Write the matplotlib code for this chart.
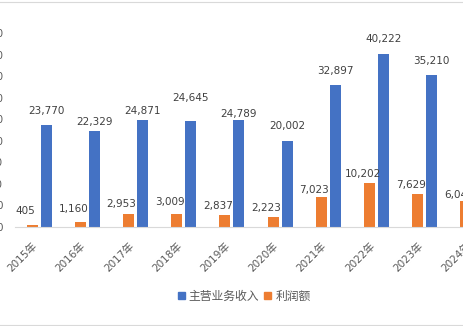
import matplotlib
matplotlib.use("Agg")
import matplotlib.pyplot as plt
import numpy as np
from matplotlib.patches import Patch
from matplotlib.lines import Line2D

plt.rcParams['font.family'] = ['DejaVu Sans', 'Noto Sans CJK SC']

years = ['2015年', '2016年', '2017年', '2018年', '2019年', '2020年',
         '2021年', '2022年', '2023年', '2024年']
revenue = [23770, 22329, 24871, 24645, 24789, 20002, 32897, 40222, 35210, 31500]
profit = [405, 1160, 2953, 3009, 2837, 2223, 7023, 10202, 7629, 6045]
series_names = ['主营业务收入', '利润额']
yticks = [0, 5000, 10000, 15000, 20000, 25000, 30000, 35000, 40000, 45000]

# label placement tweaks (pixels above bar top)
rev_label_off = [11, 6, 6, 20, 3, 12, 11, 12, 11, 11]
pro_label_off = [11, 10, 7, 9, 6, 6, 4, 6, 6, 3]

BLUE = '#4472C4'
ORANGE = '#ED7D31'
TXT = '#404040'
AX = '#595959'

W, H = 463, 326
fig = plt.figure(figsize=(W / 100, H / 100), dpi=100)
cat_px = 48.2
ax = fig.add_axes([15 / W, 99 / H, 10 * cat_px / W, 194 / H])

x = np.arange(len(years))
bw = 11 / cat_px
off = 7 / cat_px
ax.bar(x - off, profit, width=bw, color=ORANGE, zorder=2)
ax.bar(x + off, revenue, width=bw, color=BLUE, zorder=2)

ax.set_xlim(-0.5, len(years) - 0.5)
ax.set_ylim(0, 45000)
ax.set_yticks(yticks)
ax.set_yticklabels([f'{v:,}' for v in yticks], fontsize=7.5, color=AX)
ax.set_xticks(x)
ax.set_xticklabels(years, rotation=45, ha='right', fontsize=7.5, color=AX)
ax.tick_params(axis='y', length=0, pad=8.5)
ax.tick_params(axis='x', length=0, pad=10)

for s in ['top', 'right', 'left']:
    ax.spines[s].set_visible(False)
ax.spines['bottom'].set_color('#D9D9D9')
ax.spines['bottom'].set_linewidth(0.8)

for i in range(len(years)):
    ax.annotate(f'{profit[i]:,}', (x[i] - off, profit[i]),
                xytext=(-7, pro_label_off[i]), textcoords='offset pixels',
                ha='center', va='baseline', fontsize=7.5, color=TXT,
                annotation_clip=False)
    ax.annotate(f'{revenue[i]:,}', (x[i] + off, revenue[i]),
                xytext=(0, rev_label_off[i]), textcoords='offset pixels',
                ha='center', va='baseline', fontsize=7.5, color=TXT,
                annotation_clip=False)

handles = [Patch(color=BLUE), Patch(color=ORANGE)]
fig.legend(handles, series_names, loc='center', bbox_to_anchor=(244 / W, 1 - 296 / H),
           ncol=2, frameon=False, fontsize=8.5, handlelength=0.6, handleheight=0.6,
           handletextpad=0.35, columnspacing=0.4,
           prop={'family': ['Noto Sans CJK SC', 'DejaVu Sans'], 'size': 8.5},
           labelcolor=AX)

fig.add_artist(Line2D([0, 1], [1 - 1.5 / H, 1 - 1.5 / H], color='#D9D9D9', lw=0.8,
                      transform=fig.transFigure))
fig.add_artist(Line2D([0, 1], [0.8 / H, 0.8 / H], color='#D9D9D9', lw=0.8,
                      transform=fig.transFigure))

fig.savefig('out.png', dpi=100)
